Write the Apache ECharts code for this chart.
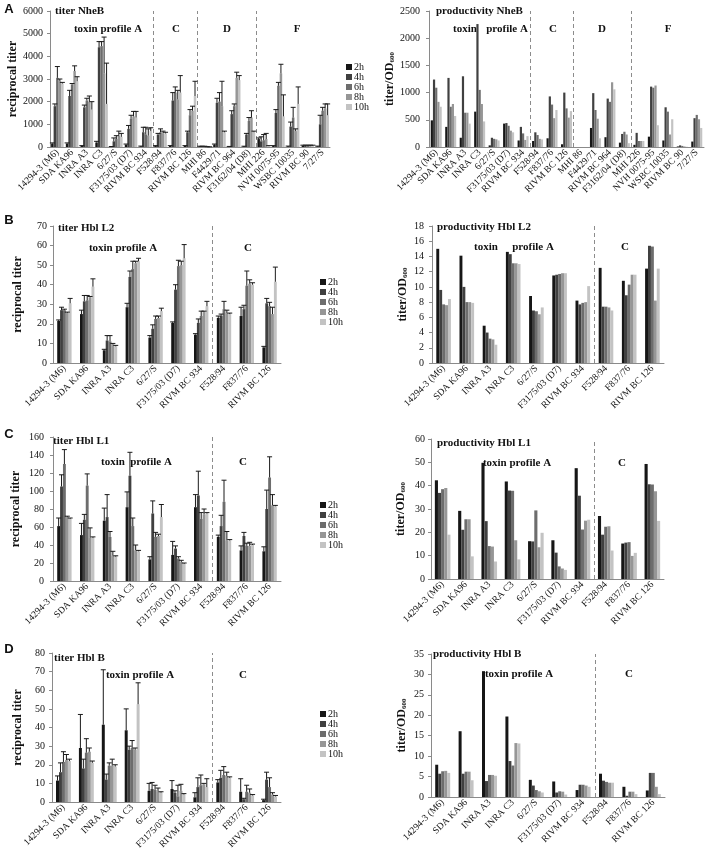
<!DOCTYPE html>
<html><head><meta charset="utf-8">
<script src="https://cdn.jsdelivr.net/npm/echarts@6/dist/echarts.min.js"></script>
<style>html,body{margin:0;padding:0;background:#fff}#c{width:708px;height:855px}</style>
</head><body><div id="c"></div><script>
const SERIF = '"Liberation Serif","Times New Roman",serif';
const timePoints = ['2h','4h','6h','8h','10h'];
const barColors = ['#161616','#404040','#6d6d6d','#969696','#c3c3c3'];

const strainsNheB = ['14294-3 (M6)','SDA KA96','INRA A3','INRA C3','6/27/S','F3175/03 (D7)','RIVM BC 934','F528/94','F837/76','RIVM BC 126','MHI 86','F4429/71','RIVM BC 964','F3162/04 (D8)','MHI 226','NVH 0075-95','WSBC 10035','RIVM BC 90','7/27/S'];
const strainsHbl = ['14294-3 (M6)','SDA KA96','INRA A3','INRA C3','6/27/S','F3175/03 (D7)','RIVM BC 934','F528/94','F837/76','RIVM BC 126'];
const profileStartsNheB = [7, 10, 14];
const profileStartsHbl = [7];

// A: titer NheB (rows: 2h,4h,6h,8h,10h)
const titerNheB = [
 [150,150,50,200,10,100,30,50,50,50,30,100,20,30,350,50,30,50,30],
 [1800,2250,1750,4400,250,800,650,550,2050,650,30,1950,1450,550,250,1500,900,50,1000],
 [3050,2750,2050,4450,350,1250,550,650,2400,1400,30,2000,1800,1150,300,2700,1300,50,1600],
 [2900,3350,2000,3250,500,1350,500,600,2100,1600,10,1800,3050,1300,350,3250,700,50,1700],
 [2800,2900,1650,1900,450,1300,700,600,2400,2250,5,650,2950,650,50,1350,1900,50,1400]
];
const titerNheBUpper = [
 [180,180,60,250,20,130,40,60,60,60,35,130,25,35,400,60,40,80,40],
 [1900,2500,1850,4650,400,950,870,600,2400,700,35,2150,1600,600,450,1650,1100,80,1400],
 [3550,2800,2150,4650,500,1400,870,800,2650,1650,35,2400,1900,1300,550,2850,1750,80,1750],
 [3000,3580,2250,4850,700,1570,800,700,2500,1800,15,2900,3300,1600,600,3650,800,80,1900],
 [2850,3100,2000,3700,600,1570,850,650,3150,2900,10,700,3150,700,60,2300,2650,80,1900]
];
const prodNheB = [
 [490,370,170,650,30,430,120,110,160,50,0,350,180,80,40,190,120,10,100],
 [1240,1270,1300,2260,170,440,370,270,930,1000,0,990,890,240,260,1110,730,30,530],
 [1090,740,630,1050,150,390,250,220,780,710,0,680,830,280,110,1090,650,20,590],
 [830,790,630,790,140,300,130,150,530,540,0,520,1190,230,110,1130,230,10,510],
 [740,570,430,470,120,270,200,140,680,660,0,160,1060,70,110,400,510,5,350]
];
// B: Hbl L2
const titerL2 = [
 [21.5,25,6.5,28.5,13,20.5,14.5,23,24,8],
 [27,31.5,11.5,44,17.5,37.5,20.5,24,27.5,30.5],
 [27,32,11,48,22.5,49.5,24,27.5,39.5,29],
 [25.5,33.5,9.5,51,23,50,26,25.5,40.5,25],
 [30.5,39,8.5,52,26.5,53.5,29,25,40,41.5]
];
const titerL2Upper = [
 [22,27,7,30.5,14,21,15,24,28.5,8.5],
 [28.5,34.5,14,47,19.5,40,22.5,25,29.5,33],
 [27.5,34.5,14,52,24,52.5,26.5,31.5,47,31],
 [26,34,10,52,24,52,26.5,27,42.5,28.5],
 [33,43,9,53.5,28,60.5,31.5,25.5,41,49]
];
const prodL2 = [
 [15.0,14.1,4.9,14.6,8.8,11.5,8.2,12.5,10.8,12.4],
 [9.6,10.0,4.0,14.3,6.9,11.6,7.7,7.4,8.9,15.4],
 [7.7,8.0,3.2,13.1,6.8,11.7,7.9,7.4,10.3,15.3],
 [7.6,8.0,3.1,13.1,6.4,11.8,8.0,7.3,11.6,8.2],
 [8.4,7.9,2.4,13.0,7.3,11.8,10.1,6.9,11.6,12.4]
];
// C: Hbl L1
const titerL1 = [
 [61,51,67,82,24,29,82,49,34,33],
 [105,68,71,117,75,36,95,61,50,80],
 [130,106,49,61,49,25,69,88,39,115],
 [71,48,28,34,50,21,74,45,39,84],
 [69,48,27,33,71,19,75,45,40,83]
];
const titerL1Upper = [
 [70,64,81,99,27,44,96,51,39,38],
 [118,74,96,143,89,39,122,73,54,101],
 [146,119,55,70,54,27,76,112,42,138],
 [72,59,33,40,52,23,80,55,43,96],
 [70,49,28,34,85,20,76,46,41,84]
];
const prodL1 = [
 [42.3,29.2,49.8,41.8,16.2,16.6,47.5,27.0,15.2,49.3],
 [36.9,21.1,24.8,37.9,16.1,11.3,35.7,19.0,15.6,40.6],
 [38.5,25.6,14.1,37.8,29.4,5.4,21.2,22.4,15.8,40.5],
 [39.0,25.6,13.9,16.6,13.6,4.5,25.0,22.6,9.9,37.6],
 [19.0,9.7,7.5,8.4,19.8,3.9,25.4,12.2,11.2,24.9]
];
// D: Hbl B
const titerB = [
 [11.5,29,41.5,38.5,6,7,2.5,10.5,5.5,1],
 [16,18,12,28,7,5,8,13,1.5,12],
 [21.5,26.5,19.5,29,6.5,3,9,14.5,5.5,8],
 [22.5,27,19.5,28,5.5,6,9.5,14,5,4],
 [22,21,19,52.5,5,4,8,13,3.5,3]
];
const titerBUpper = [
 [14,47,71,50,10,11.5,5,12,12.5,1.5],
 [21,23,15,30,10.5,6,13,17,2,16],
 [27,34,21,33,9,9,14.5,19,9,13],
 [25.5,29,23,29,7.5,9.5,10,16,7,5],
 [23,22,20,64,5.5,4.5,12.5,13.5,4,3.5]
];
const prodB = [
 [7.9,16.1,30.8,19.7,4.2,3.8,1.7,5.7,2.5,1.6],
 [5.7,5.7,3.9,8.8,2.8,1.1,3.0,4.0,0.3,5.9],
 [6.3,6.2,5.4,7.7,1.7,1.4,3.0,3.7,1.3,5.9],
 [6.4,6.2,5.4,13.2,1.4,1.3,2.8,3.5,1.3,2.5],
 [5.9,4.1,5.2,13.1,1.1,0.6,2.5,3.5,0.7,0.7]
];

const yName = 'reciprocal titer';
const yNameProd = '{a|titer/OD}{b|600}';

// grid: [left, top, width, height]; yOff: distance of value axis left of the first category band
const panels = [
 {cats:strainsNheB, values:titerNheB, upper:titerNheBUpper, yMax:6000, yStep:1000, prod:false, seps:profileStartsNheB, grid:[50,11,280,136], yOff:3, gap:0.15, nameGap:26,
  texts:[['titer NheB',55,11,'left'],['toxin profile A',108,29,'center'],['C',176,29,'center'],['D',227,29,'center'],['F',297,29,'center']]},
 {cats:strainsNheB, values:prodNheB, yMax:2500, yStep:500, prod:true, seps:profileStartsNheB, grid:[429,11,275,136], yOff:5, gap:0.24, nameGap:17,
  texts:[['productivity NheB',436,11,'left'],['toxin',465,29,'center'],['profile A',507,29,'center'],['C',553,29,'center'],['D',602,29,'center'],['F',668,29,'center']]},
 {cats:strainsHbl, values:titerL2, upper:titerL2Upper, yMax:70, yStep:10, prod:false, seps:profileStartsHbl, grid:[53,226,228,137], yOff:2, gap:0.37, nameGap:27,
  texts:[['titer Hbl L2',58,228,'left'],['toxin profile A',123,248,'center'],['C',248,248,'center']]},
 {cats:strainsHbl, values:prodL2, yMax:18, yStep:2, prod:true, seps:profileStartsHbl, grid:[432,226,232,137], yOff:4, gap:0.37, nameGap:19,
  texts:[['productivity Hbl L2',437,227,'left'],['toxin',486,247,'center'],['profile A',533,247,'center'],['C',625,247,'center']]},
 {cats:strainsHbl, values:titerL1, upper:titerL1Upper, yMax:160, yStep:20, prod:false, seps:profileStartsHbl, grid:[53,437,228,144], yOff:5, gap:0.37, nameGap:26,
  texts:[['titer Hbl L1',53,441,'left'],['toxin',113,462,'center'],['profile A',151,462,'center'],['C',243,462,'center']]},
 {cats:strainsHbl, values:prodL1, yMax:60, yStep:10, prod:true, seps:profileStartsHbl, grid:[431,439,233,140], yOff:2, gap:0.33, nameGap:22,
  texts:[['productivity Hbl L1',437,443,'left'],['toxin profile A',517,463,'center'],['C',622,463,'center']]},
 {cats:strainsHbl, values:titerB, upper:titerBUpper, yMax:80, yStep:10, prod:false, seps:profileStartsHbl, grid:[52,653,229,149], yOff:3, gap:0.35, nameGap:25,
  texts:[['titer Hbl B',54,658,'left'],['toxin profile A',140,675,'center'],['C',243,675,'center']]},
 {cats:strainsHbl, values:prodB, yMax:35, yStep:5, prod:true, seps:profileStartsHbl, grid:[431,654,234,143], yOff:3, gap:0.36, nameGap:20,
  texts:[['productivity Hbl B',433,654,'left'],['toxin profile A',519,674,'center'],['C',629,674,'center']]}
];

const grids = [], xAxes = [], yAxes = [], series = [], graphics = [];
const axisColor = '#8a8a8a';

panels.forEach((p, k) => {
  grids.push({left:p.grid[0], top:p.grid[1], width:p.grid[2], height:p.grid[3]});
  xAxes.push({type:'category', gridIndex:k, data:p.cats,
    axisLine:{lineStyle:{color:axisColor}},
    axisTick:{length:3, interval:0, lineStyle:{color:axisColor}},
    axisLabel:{interval:0, rotate:45, fontFamily:SERIF, fontSize:9.5, color:'#111', margin:4, hideOverlap:false},
    splitLine:{show:false}});
  xAxes.push({type:'value', gridIndex:k, min:0, max:p.cats.length, show:false});
  yAxes.push({type:'value', gridIndex:k, min:0, max:p.yMax, interval:p.yStep, offset:p.yOff,
    name: p.prod ? yNameProd : yName, nameLocation:'middle', nameRotate:90, nameGap:p.nameGap,
    nameTextStyle: p.prod ? {rich:{a:{fontFamily:SERIF,fontSize:12,fontWeight:'bold',color:'#111'},b:{fontFamily:SERIF,fontSize:7,fontWeight:'bold',color:'#111',verticalAlign:'bottom',padding:[5,0,0,0]}}}
                          : {fontFamily:SERIF,fontSize:12,fontWeight:'bold',color:'#111'},
    axisLine:{show:true, lineStyle:{color:axisColor}},
    axisTick:{show:true, length:3, lineStyle:{color:axisColor}},
    axisLabel:{fontFamily:SERIF, fontSize:10, color:'#111', margin:4, formatter:v => String(v)},
    splitLine:{show:false}});
  timePoints.forEach((t, s) => {
    series.push({type:'bar', name:t, xAxisIndex:2*k, yAxisIndex:k, data:p.values[s],
      itemStyle:{color:barColors[s]}, barGap:'0%', barCategoryGap:(p.gap*100)+'%', animation:false});
  });
  if (p.upper) {
    const errData = [];
    p.upper.forEach((row, s) => row.forEach((u, i) => {
      if (u > p.values[s][i]) errData.push([i, p.values[s][i], u, s]);
    }));
    const gap = p.gap;
    series.push({type:'custom', xAxisIndex:2*k, yAxisIndex:k, data:errData, encode:{x:0,y:2}, z:5, animation:false, silent:true,
      renderItem:(params, api) => {
        const i = api.value(0), v = api.value(1), u = api.value(2), s = api.value(3);
        const band = api.size([1,0])[0];
        const gw = band*(1-gap), bw = gw/5;
        const x = api.coord([i,0])[0] - gw/2 + bw*(s+0.5);
        const y0 = api.coord([i,v])[1], y1 = api.coord([i,u])[1];
        const st = {stroke:'#1a1a1a', lineWidth:1};
        return {type:'group', children:[
          {type:'line', shape:{x1:x,y1:y0,x2:x,y2:y1}, style:st},
          {type:'line', shape:{x1:x-2.5,y1:y1,x2:x+2.5,y2:y1}, style:st}
        ]};
      }});
  }
  series.push({type:'line', xAxisIndex:2*k+1, yAxisIndex:k, data:[[0,0]], symbol:'none', lineStyle:{opacity:0}, silent:true, animation:false,
    markLine:{silent:true, symbol:'none', animation:false, label:{show:false},
      lineStyle:{type:[4,3], color:'#8c8c8c', width:1},
      data:p.seps.map(v => ({xAxis:v}))}});
  p.texts.forEach(tx => {
    graphics.push({type:'text', x:tx[1], y:tx[2], style:{text:tx[0], font:'bold 11px '+SERIF, fill:'#111',
      textAlign:tx[3], align:tx[3], textVerticalAlign:'middle', verticalAlign:'middle'}});
  });
});

[['A',9,9],['B',9,220],['C',9,434],['D',9,649]].forEach(l => {
  graphics.push({type:'text', x:l[1], y:l[2], style:{text:l[0], font:'bold 13px "Liberation Sans",Arial,sans-serif', fill:'#111',
    textAlign:'center', align:'center', textVerticalAlign:'middle', verticalAlign:'middle'}});
});

const legendPos = [[341,57],[315,272],[315,495],[315,704]];
const legends = legendPos.map(lp => ({data:timePoints, orient:'vertical', left:lp[0], top:lp[1], icon:'rect',
  itemWidth:6, itemHeight:6, itemGap:0, selectedMode:false,
  textStyle:{fontFamily:SERIF, fontSize:10, color:'#111', lineHeight:7.6, padding:[0,0,0,-3]}}));

const chart = echarts.init(document.getElementById('c'), null, {renderer:'canvas'});
chart.setOption({backgroundColor:'#fff', animation:false, grid:grids, xAxis:xAxes, yAxis:yAxes, legend:legends, series:series, graphic:graphics});
</script></body></html>
